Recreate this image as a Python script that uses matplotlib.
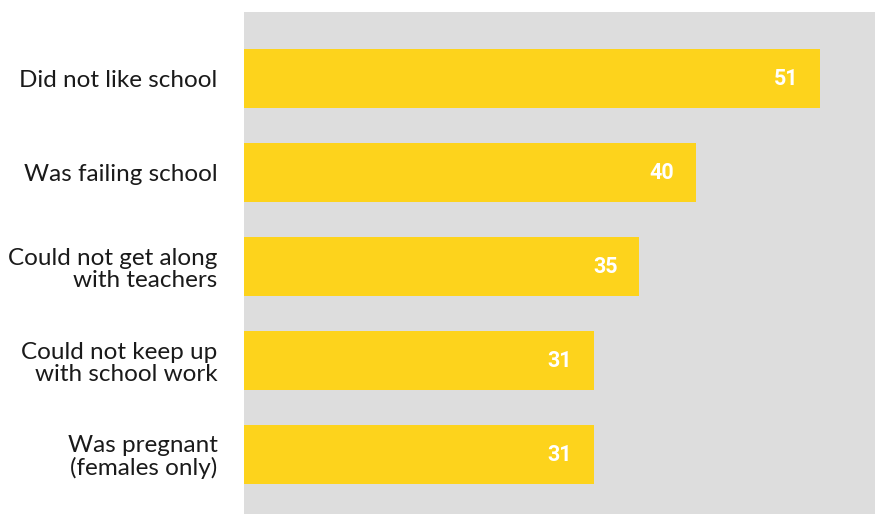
import matplotlib
matplotlib.use("Agg")
import matplotlib.pyplot as plt

# reasons for leaving school (percent)
reasons = [
    "Did not like school",
    "Was failing school",
    "Could not get along\nwith teachers",
    "Could not keep up\nwith school work",
    "Was pregnant\n(females only)",
]
percent = [51, 40, 35, 31, 31]

fig = plt.figure(figsize=(8.75, 5.14), dpi=100)
ax = fig.add_axes([244 / 875, 0, 1 - 244 / 875, 502 / 514])
ax.set_facecolor("#dddddd")

ypos = list(range(len(reasons)))
ax.barh(ypos, percent, height=0.63, color="#fdd31c")

for y, v in zip(ypos, percent):
    ax.text(v - 1.9, y, str(v), ha="right", va="center", color="white",
            fontsize=15.5, fontweight="bold", family="Roboto")

ax.set_xlim(0, 55.9)
ax.set_ylim(4.63, -0.71)
ax.set_yticks(ypos)
ax.set_yticklabels(reasons, fontsize=17.5, family="Lato",
                   color="#1a1a1a", multialignment="right", linespacing=1.05)
ax.tick_params(axis="y", length=0, pad=19)
ax.set_xticks([])
for s in ax.spines.values():
    s.set_visible(False)

fig.savefig("out.png", dpi=100)
